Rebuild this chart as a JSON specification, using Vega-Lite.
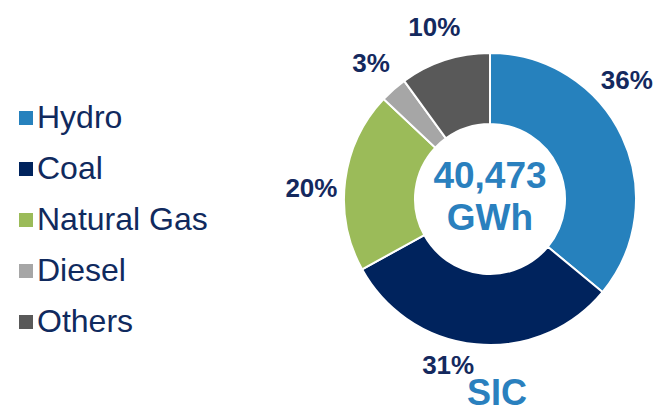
{
  "$schema": "https://vega.github.io/schema/vega-lite/v6.json",
  "width": 300,
  "height": 300,
  "autosize": {"type": "none"},
  "padding": {"left": 340, "top": 49, "right": 16, "bottom": 65},
  "background": "white",
  "title": {"text": "SIC", "orient": "bottom", "offset": -2, "dx": 7, "fontSize": 36, "font": "Liberation Sans", "fontWeight": "bold", "color": "#2A80BE", "anchor": "middle"},
  "config": {"view": {"stroke": null}},
  "layer": [
    {
      "data": {"values": [
        {"source": "Hydro", "share": 0.36, "idx": 1},
        {"source": "Coal", "share": 0.31, "idx": 2},
        {"source": "Natural Gas", "share": 0.20, "idx": 3},
        {"source": "Diesel", "share": 0.03, "idx": 4},
        {"source": "Others", "share": 0.10, "idx": 5}
      ]},
      "encoding": {
        "theta": {"field": "share", "type": "quantitative", "stack": true},
        "order": {"field": "idx", "type": "quantitative"}
      },
      "layer": [
        {
          "mark": {"type": "arc", "innerRadius": 75, "outerRadius": 146, "stroke": "white", "strokeWidth": 2},
          "encoding": {
            "color": {
              "field": "source", "type": "nominal",
              "sort": ["Hydro", "Coal", "Natural Gas", "Diesel", "Others"],
              "scale": {"domain": ["Hydro", "Coal", "Natural Gas", "Diesel", "Others"], "range": ["#2681BD", "#00235D", "#9BBB59", "#A6A6A6", "#595959"]},
              "legend": {
                "title": null, "orient": "none", "legendX": -330, "legendY": 53, "padding": 0,
                "symbolType": "square", "symbolSize": 196, "symbolStrokeWidth": 0,
                "labelFontSize": 32, "labelFont": "Liberation Sans", "labelColor": "#102A5E", "labelLimit": 300,
                "labelOffset": -5, "rowPadding": 19
              }
            }
          }
        },
        {
          "mark": {"type": "text", "fontSize": 26, "fontWeight": "bold", "font": "Liberation Sans", "color": "#14295E",
                   "radius": {"expr": "datum.source === 'Coal' ? 168 : 180"},
                   "align": {"expr": "datum.source === 'Hydro' || datum.source === 'Coal' ? 'right' : 'center'"},
                   "baseline": {"expr": "datum.source === 'Hydro' ? 'bottom' : (datum.source === 'Natural Gas' ? 'top' : 'middle')"},
                   "dy": {"expr": "datum.source === 'Hydro' ? -28 : 0"}},
          "encoding": {"text": {"field": "share", "type": "quantitative", "format": ".0%"}}
        }
      ]
    },
    {
      "data": {"values": [{"total": "40,473\nGWh"}]},
      "mark": {"type": "text", "lineBreak": "\n", "fontSize": 37, "fontWeight": "bold", "font": "Liberation Sans", "color": "#2A80BE", "lineHeight": 42, "baseline": "middle", "align": "center", "dy": -22},
      "encoding": {"text": {"field": "total", "type": "nominal"}}
    }
  ]
}
